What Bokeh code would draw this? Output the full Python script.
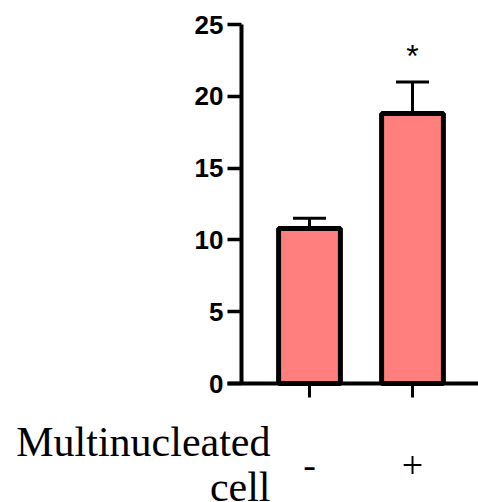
from bokeh.plotting import figure
from bokeh.models import Range1d, FixedTicker, Whisker, ColumnDataSource, Label, LinearAxis
from bokeh.embed import file_html
from bokeh.resources import INLINE

categories = ["-", "+"]
positions = [1, 2]
means = [10.8, 18.8]
errors = [0.7, 2.2]
y_ticks = [0, 5, 10, 15, 20, 25]
significance = ["", "*"]
axis_title = ["Multinucleated", "cell"]

upper = [m + e for m, e in zip(means, errors)]
src = ColumnDataSource(dict(x=positions, top=means, upper=upper))

W, H = 478, 502
PX_X = 103.0    # pixels per x unit
PX_Y = 14.36    # pixels per y unit
X1_PX, Y0_PX = 309.0, 383.0  # pixel location of x=1 and y=0

def sx(px):
    return 1 + (px - X1_PX) / PX_X

def sy(py):
    return (Y0_PX - py) / PX_Y

p = figure(width=W, height=H, output_backend="svg", toolbar_location=None,
           x_range=Range1d(sx(0), sx(W)), y_range=Range1d(sy(H), sy(0)),
           min_border=0, x_axis_type=None, y_axis_type=None)
p.outline_line_color = None
p.grid.visible = False
p.background_fill_color = "white"
p.border_fill_color = "white"

p.vbar(x="x", top="top", bottom=0, width=0.6, source=src,
       fill_color="#FF7F7F", line_color="black", line_width=5)

w = Whisker(base="x", lower="top", upper="upper", source=src, dimension="height",
            line_color="black", line_width=3, lower_head=None)
w.upper_head.size = 33
w.upper_head.line_width = 3
w.upper_head.line_color = "black"
p.add_layout(w)

# significance marker
for xv, up, s in zip(positions, upper, significance):
    if s:
        p.add_layout(Label(x=xv, y=up + 1.8, text=s, text_align="center", text_baseline="middle",
                           text_font="Liberation Sans", text_font_size="32px", text_color="black"))

# y axis
ya = LinearAxis(fixed_location=sx(241), bounds=(0, 25))
ya.ticker = FixedTicker(ticks=y_ticks)
ya.minor_tick_line_color = None
ya.axis_line_width = 4
ya.major_tick_line_width = 3.5
ya.major_tick_out = 14
ya.major_tick_in = 0
ya.major_label_standoff = 4
ya.major_label_text_font = "Liberation Sans"
ya.major_label_text_font_style = "bold"
ya.major_label_text_font_size = "26px"
ya.major_label_text_color = "black"
p.add_layout(ya, "left")

# x axis
xa = LinearAxis(fixed_location=0, bounds=(sx(227), sx(W)))
xa.ticker = FixedTicker(ticks=positions)
xa.major_label_overrides = {pos: c for pos, c in zip(positions, categories)}
xa.minor_tick_line_color = None
xa.axis_line_width = 4
xa.major_tick_line_width = 3
xa.major_tick_out = 14
xa.major_tick_in = 0
xa.major_label_standoff = 55
xa.major_label_text_font = "Liberation Serif"
xa.major_label_text_font_size = "38px"
xa.major_label_text_color = "black"
p.add_layout(xa, "below")

# axis title (two lines, right-aligned, left of the tick labels)
title_y = [sy(441), sy(486)]
for t, ty in zip(axis_title, title_y):
    p.add_layout(Label(x=sx(270), y=ty, text=t, text_align="right", text_baseline="alphabetic",
                       text_font="Liberation Serif", text_font_size="42px", text_color="black"))

open("out.html", "w").write(file_html(p, INLINE))
